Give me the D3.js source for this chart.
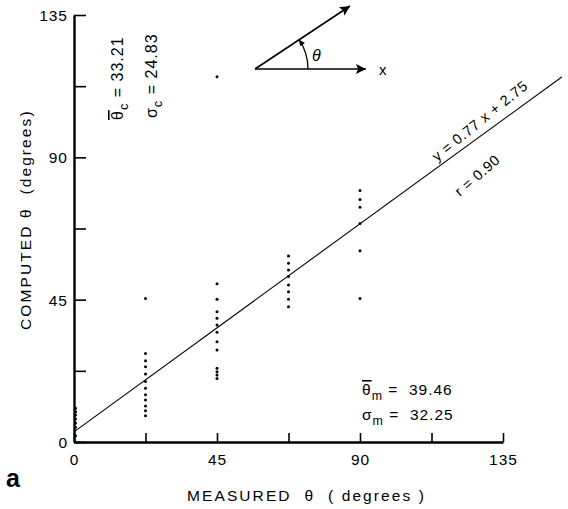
<!DOCTYPE html>
<html><head><meta charset="utf-8">
<script src="https://cdn.jsdelivr.net/npm/d3@7"></script>
<style>
html,body{margin:0;padding:0;background:#fff;}
svg{display:block;font-family:"Liberation Sans",Arial,sans-serif;}
</style></head>
<body>
<script>
// ---- data ----
const xTicks = [0, 22.5, 45, 67.5, 90, 112.5, 135];
const yTicks = [0, 22.5, 45, 67.5, 90, 112.5, 135];
const tickLabels = ["0", "", "45", "", "90", "", "135"];
const measuredGroups = [0, 22.5, 45, 67.5, 90];
const computedAt0   = [0, 2, 4.7, 6, 7.3, 8.5, 9.6, 10.7];
const computedAt22  = [8.3, 9.9, 11.4, 13.3, 14.9, 17.0, 19.1, 21.5, 23.8, 25.7, 28.0, 45.4];
const computedAt45  = [20.1, 21.2, 22.2, 23.3, 29.1, 31.7, 34.7, 37.0, 39.1, 41.2, 45.1, 50.0, 115.5];
const computedAt67  = [42.8, 45.1, 47.5, 49.6, 52.3, 54.4, 56.5, 58.8];
const computedAt90  = [45.4, 60.5, 69.1, 74.2, 76.7, 79.5];
const fitX = [0, 153.5];
const fitY = [3.2, 115.4];

const W = 568, H = 509;
const svg = d3.select("body").append("svg").attr("width", W).attr("height", H);

const x = d3.scaleLinear().domain([0, 135]).range([74, 503]);
const y = d3.scaleLinear().domain([0, 135]).range([442, 15]);

const fmt = (d) => tickLabels[xTicks.indexOf(d)];

// axes
const gx = svg.append("g").attr("transform", `translate(0,${y(0)})`)
  .call(d3.axisBottom(x).tickValues(xTicks).tickFormat(fmt).tickSizeInner(-9).tickSizeOuter(0).tickPadding(12));
const gy = svg.append("g").attr("transform", `translate(${x(0)},0)`)
  .call(d3.axisLeft(y).tickValues(yTicks).tickFormat(fmt).tickSizeInner(-12).tickSizeOuter(0).tickPadding(6));
[gx, gy].forEach(g => {
  g.select(".domain").attr("stroke", "#000").attr("stroke-width", 2.4);
  g.selectAll(".tick line").attr("stroke", "#000").attr("stroke-width", 1.6);
  g.selectAll(".tick text").attr("fill", "#000").attr("font-size", 15.5)
    .attr("font-family", "Liberation Sans, Arial, sans-serif").attr("letter-spacing", 1);
});
gy.selectAll(".tick text").attr("dy", "0.36em");
gx.selectAll(".tick text").attr("dy", "0.71em");

// points
const groups = [computedAt0, computedAt22, computedAt45, computedAt67, computedAt90];
const pts = [];
groups.forEach((arr, i) => arr.forEach(v => pts.push([measuredGroups[i], v])));
svg.append("g").selectAll("circle").data(pts).join("circle")
  .attr("cx", d => x(d[0]) + (d[0] === 0 ? 1.5 : 0))
  .attr("cy", d => y(d[1]))
  .attr("r", 1.5).attr("fill", "#000");

// regression line
svg.append("line")
  .attr("x1", x(fitX[0])).attr("y1", y(fitY[0]))
  .attr("x2", x(fitX[1])).attr("y2", y(fitY[1]))
  .attr("stroke", "#000").attr("stroke-width", 1.1);

// regression text
svg.append("text").attr("transform", `translate(437,162) rotate(-39)`)
  .attr("font-size", 14.5).attr("letter-spacing", 0.6).text("y = 0.77 x + 2.75");
svg.append("text").attr("transform", `translate(460,197) rotate(-41)`)
  .attr("font-size", 14.5).attr("letter-spacing", 0.6).text("r = 0.90");

// axis titles
svg.append("text").attr("x", 187).attr("y", 501).attr("font-size", 15.5)
  .attr("letter-spacing", 2.1).attr("xml:space", "preserve")
  .text("MEASURED  \u03B8  ( degrees )");
svg.append("text").attr("transform", "translate(31,330) rotate(-90)").attr("font-size", 15.5)
  .attr("letter-spacing", 2.1).attr("xml:space", "preserve")
  .text("COMPUTED \u03B8  (degrees)");

// panel letter
svg.append("text").attr("x", 6).attr("y", 487).attr("font-size", 25).attr("font-weight", "bold").text("a");

// stats text helper
function stat(g, sym, over, sub, val, fs) {
  const t = g.append("text").attr("font-size", fs).attr("letter-spacing", 1).attr("xml:space", "preserve");
  t.append("tspan").attr("style", over ? "text-decoration: overline" : null).text(sym);
  t.append("tspan").attr("font-size", fs * 0.8).attr("dy", 5).text(sub);
  t.append("tspan").attr("dy", -5).text(" = " + val);
  return t;
}
stat(svg.append("g").attr("transform", "translate(123,120) rotate(-90)"), "\u03B8", true, "c", "33.21", 16);
stat(svg.append("g").attr("transform", "translate(157,118) rotate(-90)"), "\u03C3", false, "c", "24.83", 16);

stat(svg.append("g").attr("transform", "translate(362,395)"), "\u03B8", true, "m", " 39.46", 15.5);
stat(svg.append("g").attr("transform", "translate(362,420)"), "\u03C3", false, "m", " 32.25", 15.5);

// inset diagram
const defs = svg.append("defs");
defs.append("marker").attr("id", "ah").attr("viewBox", "0 0 10 10").attr("refX", 10).attr("refY", 5)
  .attr("markerWidth", 18).attr("markerHeight", 10).attr("markerUnits", "userSpaceOnUse").attr("orient", "auto")
  .append("path").attr("d", "M0,0 L10,5 L0,10 L2,5 Z").attr("fill", "#000");
defs.append("marker").attr("id", "ahs").attr("viewBox", "0 0 10 10").attr("refX", 10).attr("refY", 5)
  .attr("markerWidth", 8).attr("markerHeight", 6).attr("markerUnits", "userSpaceOnUse").attr("orient", "auto")
  .append("path").attr("d", "M0,0 L10,5 L0,10 Z").attr("fill", "#000");
const ox = 255, oy = 69;
svg.append("line").attr("x1", ox).attr("y1", oy).attr("x2", 366).attr("y2", oy)
  .attr("stroke", "#000").attr("stroke-width", 1.6).attr("marker-end", "url(#ah)");
svg.append("line").attr("x1", ox).attr("y1", oy).attr("x2", 350).attr("y2", 6)
  .attr("stroke", "#000").attr("stroke-width", 1.6).attr("marker-end", "url(#ah)");
const R = 53, a1 = Math.atan2(63, 95);
svg.append("path")
  .attr("d", `M${ox + R},${oy} A${R},${R} 0 0 0 ${ox + R * Math.cos(a1)},${oy - R * Math.sin(a1)}`)
  .attr("fill", "none").attr("stroke", "#000").attr("stroke-width", 1.3).attr("marker-end", "url(#ahs)");
svg.append("text").attr("x", 312).attr("y", 61).attr("font-size", 16).attr("font-style", "italic").text("\u03B8");
svg.append("text").attr("x", 379).attr("y", 75).attr("font-size", 15).text("x");
</script>
</body></html>
